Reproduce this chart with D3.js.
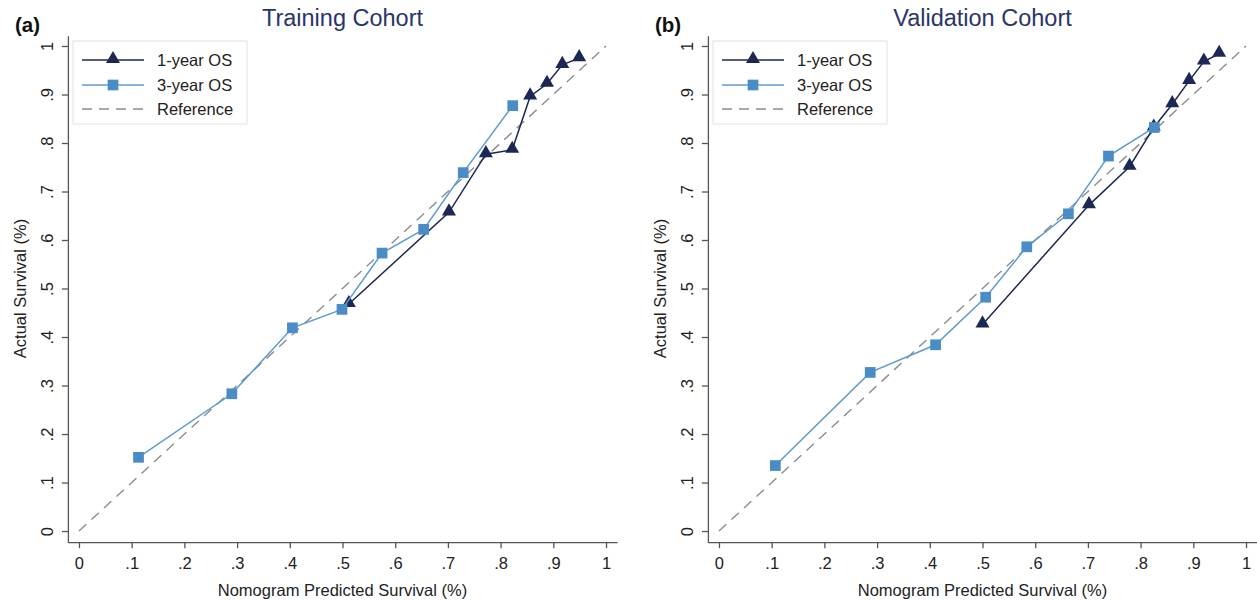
<!DOCTYPE html>
<html>
<head>
<meta charset="utf-8">
<script src="https://cdn.jsdelivr.net/npm/d3@7"></script>
<style>
  html, body { margin: 0; padding: 0; background: #fff; }
  svg { display: block; font-family: "Liberation Sans", Arial, Helvetica, sans-serif; }
</style>
</head>
<body>
<svg id="chart" width="1257" height="600"></svg>
<script>
// ---------- data ----------
const panelTitles = ["Training Cohort", "Validation Cohort"];
const panelTags = ["(a)", "(b)"];
const seriesNames = ["1-year OS", "3-year OS", "Reference"];
const tickValues = [0, 0.1, 0.2, 0.3, 0.4, 0.5, 0.6, 0.7, 0.8, 0.9, 1];
const tickLabels = ["0", ".1", ".2", ".3", ".4", ".5", ".6", ".7", ".8", ".9", "1"];
const xTitle = "Nomogram Predicted Survival (%)";
const yTitle = "Actual Survival (%)";

const trainX1 = [0.512, 0.702, 0.772, 0.822, 0.856, 0.888, 0.917, 0.949];
const trainY1 = [0.468, 0.657, 0.777, 0.786, 0.896, 0.922, 0.961, 0.975];
const trainX3 = [0.113, 0.290, 0.405, 0.499, 0.575, 0.654, 0.729, 0.823];
const trainY3 = [0.152, 0.283, 0.419, 0.457, 0.573, 0.622, 0.739, 0.877];

const validX1 = [0.500, 0.702, 0.779, 0.825, 0.860, 0.892, 0.920, 0.949];
const validY1 = [0.426, 0.672, 0.751, 0.832, 0.880, 0.928, 0.968, 0.984];
const validX3 = [0.107, 0.287, 0.411, 0.506, 0.584, 0.663, 0.739, 0.826];
const validY3 = [0.135, 0.327, 0.384, 0.482, 0.586, 0.654, 0.773, 0.832];

const refX = [0, 1];
const refY = [0, 1];

// ---------- style ----------
const C1 = "#1d2755";
const C3 = "#4a8dc6";
const C3line = "#5b9bd2";
const CREF = "#8c8c8c";
const CAXIS = "#555";
const CTEXT = "#222";
const CTITLE = "#2a356b";
const FS = 16.5;

const svg = d3.select("#chart");

function zip(xs, ys) { return xs.map((x, i) => ({x: x, y: ys[i]})); }

function drawPanel(offset, title, tag, x1, y1, x3, y3) {
  const g = svg.append("g").attr("transform", `translate(${offset},0)`);
  const x = d3.scaleLinear().domain([-0.021, 1.021]).range([67.9, 617.1]);
  const y = d3.scaleLinear().domain([-0.023, 1.021]).range([542.2, 35.8]);

  // axes
  const xAxis = d3.axisBottom(x).tickValues(tickValues)
    .tickFormat((d, i) => tickLabels[i]).tickSize(6).tickSizeOuter(0).tickPadding(9);
  const gx = g.append("g").attr("transform", `translate(0,${y.range()[0]})`).call(xAxis);
  gx.selectAll("text").attr("font-size", FS).attr("fill", CTEXT)
    .attr("font-family", "Liberation Sans, Arial, sans-serif");

  const yAxis = d3.axisLeft(y).tickValues(tickValues)
    .tickFormat((d, i) => tickLabels[i]).tickSize(6).tickSizeOuter(0);
  const gy = g.append("g").attr("transform", `translate(${x.range()[0]},0)`).call(yAxis);
  gy.selectAll("text").attr("font-size", FS).attr("fill", CTEXT)
    .attr("font-family", "Liberation Sans, Arial, sans-serif")
    .attr("x", null).attr("dy", null)
    .attr("text-anchor", "middle")
    .attr("transform", "translate(-15,0) rotate(-90)");

  [gx, gy].forEach(a => {
    a.select(".domain").attr("stroke", CAXIS).attr("stroke-width", 1.3);
    a.selectAll(".tick line").attr("stroke", CAXIS).attr("stroke-width", 1.3);
  });

  // titles
  g.append("text").attr("x", (x(0) + x(1)) / 2).attr("y", 26)
    .attr("text-anchor", "middle").attr("font-size", 23.5).attr("fill", CTITLE).text(title);
  g.append("text").attr("x", 15).attr("y", 32).attr("font-size", 20.5)
    .attr("font-weight", "bold").attr("fill", "#111").text(tag);
  g.append("text").attr("x", (x(0) + x(1)) / 2).attr("y", 596)
    .attr("text-anchor", "middle").attr("font-size", FS).attr("fill", CTEXT).text(xTitle);
  g.append("text").attr("transform", `translate(26,${(y(0) + y(1)) / 2}) rotate(-90)`)
    .attr("text-anchor", "middle").attr("font-size", FS).attr("fill", CTEXT).text(yTitle);

  const line = d3.line().x(d => x(d.x)).y(d => y(d.y));

  // reference
  g.append("path").datum(zip(refX, refY)).attr("d", line)
    .attr("fill", "none").attr("stroke", CREF).attr("stroke-width", 1.4)
    .attr("stroke-dasharray", "10,7");

  // 1-year
  const d1 = zip(x1, y1);
  g.append("path").datum(d1).attr("d", line)
    .attr("fill", "none").attr("stroke", C1).attr("stroke-width", 1.5);
  const tri = d3.symbol().type(d3.symbolTriangle).size(85);
  g.selectAll(".tri").data(d1).enter().append("path")
    .attr("d", tri).attr("transform", d => `translate(${x(d.x)},${y(d.y) - 1})`)
    .attr("fill", C1);

  // 3-year
  const d3s = zip(x3, y3);
  g.append("path").datum(d3s).attr("d", line)
    .attr("fill", "none").attr("stroke", C3line).attr("stroke-width", 1.5);
  const sq = d3.symbol().type(d3.symbolSquare).size(115);
  g.selectAll(".sq").data(d3s).enter().append("path")
    .attr("d", sq).attr("transform", d => `translate(${x(d.x)},${y(d.y)})`)
    .attr("fill", C3);

  // legend
  const lg = g.append("g");
  lg.append("rect").attr("x", 73).attr("y", 41).attr("width", 174).attr("height", 83)
    .attr("fill", "#fff").attr("stroke", "#e2e2e2").attr("stroke-width", 1);
  const rows = [60, 85, 109];
  lg.append("line").attr("x1", 82).attr("x2", 144).attr("y1", rows[0]).attr("y2", rows[0])
    .attr("stroke", C1).attr("stroke-width", 1.5);
  lg.append("path").attr("d", tri).attr("transform", `translate(113,${rows[0] - 1})`).attr("fill", C1);
  lg.append("line").attr("x1", 82).attr("x2", 144).attr("y1", rows[1]).attr("y2", rows[1])
    .attr("stroke", C3line).attr("stroke-width", 1.5);
  lg.append("path").attr("d", sq).attr("transform", `translate(113,${rows[1]})`).attr("fill", C3);
  lg.append("line").attr("x1", 82).attr("x2", 144).attr("y1", rows[2]).attr("y2", rows[2])
    .attr("stroke", CREF).attr("stroke-width", 1.4).attr("stroke-dasharray", "10,7");
  seriesNames.forEach((n, i) => {
    lg.append("text").attr("x", 157).attr("y", rows[i]).attr("dy", "0.36em")
      .attr("font-size", FS).attr("fill", CTEXT).text(n);
  });
}

drawPanel(0, panelTitles[0], panelTags[0], trainX1, trainY1, trainX3, trainY3);
drawPanel(640, panelTitles[1], panelTags[1], validX1, validY1, validX3, validY3);
</script>
</body>
</html>
